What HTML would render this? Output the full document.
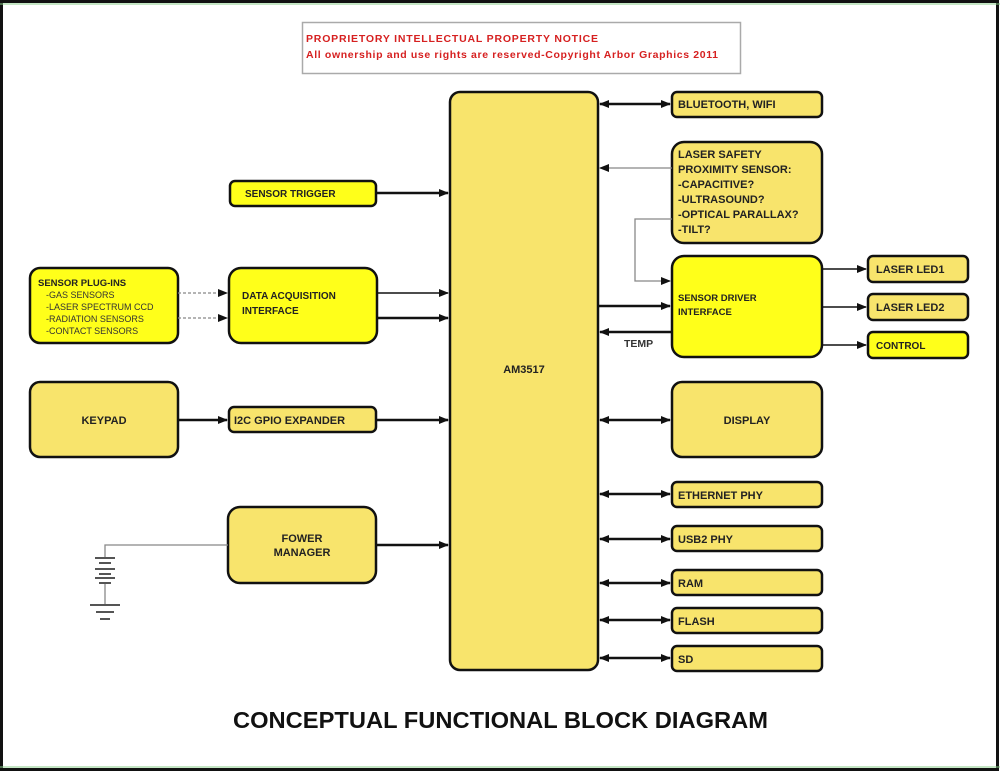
<!DOCTYPE html>
<html><head><meta charset="utf-8"><style>
html,body{margin:0;padding:0;background:#fff;}
svg{display:block;}
text{font-family:"Liberation Sans",Arial,sans-serif;font-weight:bold;fill:#222;}
</style></head><body>
<svg width="1000" height="772" viewBox="0 0 1000 772" xmlns="http://www.w3.org/2000/svg">
<defs>
<marker id="a" markerWidth="10" markerHeight="8" refX="9" refY="4" orient="auto" markerUnits="userSpaceOnUse"><path d="M0,0 L10,4 L0,8 Z" fill="#111"/></marker>
<marker id="s" markerWidth="10" markerHeight="8" refX="1" refY="4" orient="auto" markerUnits="userSpaceOnUse"><path d="M10,0 L0,4 L10,8 Z" fill="#111"/></marker>
</defs>
<rect width="1000" height="772" fill="#fff"/>
<!-- frame -->
<rect x="1.5" y="1.5" width="996" height="768" fill="none" stroke="#111" stroke-width="3"/>
<line x0="0" x1="1000" y1="4" y2="4" stroke="#7c7" stroke-width="1"/>
<line x1="0" x2="1000" y1="4" y2="4" stroke="#8c8" stroke-width="1"/>
<line x1="0" x2="1000" y1="767" y2="767" stroke="#8c8" stroke-width="1"/>

<!-- notice -->
<rect x="302.5" y="22.5" width="438" height="51" fill="#fff" stroke="#aaa" stroke-width="1.5"/>
<text x="306" y="42" font-size="10.5" style="fill:#d62020" textLength="292">PROPRIETORY INTELLECTUAL PROPERTY NOTICE</text>
<text x="306" y="58" font-size="10.5" style="fill:#d62020" textLength="412">All ownership and use rights are reserved-Copyright Arbor Graphics 2011</text>

<g stroke="#111" stroke-width="2.5">
<!-- pale boxes -->
<rect x="450" y="92" width="148" height="578" rx="10" fill="#f8e46c"/>
<rect x="672" y="92" width="150" height="25" rx="5" fill="#f8e46c"/>
<rect x="672" y="142" width="150" height="101" rx="12" fill="#f8e46c"/>
<rect x="868" y="256" width="100" height="26" rx="5" fill="#f8e46c"/>
<rect x="868" y="294" width="100" height="26" rx="5" fill="#f8e46c"/>
<rect x="30" y="382" width="148" height="75" rx="10" fill="#f8e46c"/>
<rect x="229" y="407" width="147" height="25" rx="5" fill="#f8e46c"/>
<rect x="228" y="507" width="148" height="76" rx="12" fill="#f8e46c"/>
<rect x="672" y="382" width="150" height="75" rx="10" fill="#f8e46c"/>
<rect x="672" y="482" width="150" height="25" rx="5" fill="#f8e46c"/>
<rect x="672" y="526" width="150" height="25" rx="5" fill="#f8e46c"/>
<rect x="672" y="570" width="150" height="25" rx="5" fill="#f8e46c"/>
<rect x="672" y="608" width="150" height="25" rx="5" fill="#f8e46c"/>
<rect x="672" y="646" width="150" height="25" rx="5" fill="#f8e46c"/>
<!-- bright boxes -->
<rect x="672" y="256" width="150" height="101" rx="12" fill="#ffff1a"/>
<rect x="868" y="332" width="100" height="26" rx="5" fill="#ffff1a"/>
<rect x="230" y="181" width="146" height="25" rx="5" fill="#ffff1a"/>
<rect x="30" y="268" width="148" height="75" rx="10" fill="#ffff1a"/>
<rect x="229" y="268" width="148" height="75" rx="12" fill="#ffff1a"/>
</g>

<!-- connectors -->
<g stroke="#111" stroke-width="2.5" fill="none">
<line x1="600" y1="104" x2="670" y2="104" marker-start="url(#s)" marker-end="url(#a)"/>
<line x1="376" y1="193" x2="448" y2="193" marker-end="url(#a)"/>
<line x1="377" y1="318" x2="448" y2="318" marker-end="url(#a)"/>
<line x1="178" y1="420" x2="227" y2="420" marker-end="url(#a)"/>
<line x1="376" y1="420" x2="448" y2="420" marker-end="url(#a)"/>
<line x1="376" y1="545" x2="448" y2="545" marker-end="url(#a)"/>
<line x1="598" y1="306" x2="670" y2="306" marker-end="url(#a)"/>
<line x1="672" y1="332" x2="600" y2="332" marker-end="url(#a)"/>
<line x1="600" y1="420" x2="670" y2="420" marker-start="url(#s)" marker-end="url(#a)"/>
<line x1="600" y1="494" x2="670" y2="494" marker-start="url(#s)" marker-end="url(#a)"/>
<line x1="600" y1="539" x2="670" y2="539" marker-start="url(#s)" marker-end="url(#a)"/>
<line x1="600" y1="583" x2="670" y2="583" marker-start="url(#s)" marker-end="url(#a)"/>
<line x1="600" y1="620" x2="670" y2="620" marker-start="url(#s)" marker-end="url(#a)"/>
<line x1="600" y1="658" x2="670" y2="658" marker-start="url(#s)" marker-end="url(#a)"/>
</g>
<g stroke="#111" stroke-width="1.5" fill="none">
<line x1="377" y1="293" x2="448" y2="293" marker-end="url(#a)"/>
<line x1="822" y1="269" x2="866" y2="269" marker-end="url(#a)"/>
<line x1="822" y1="307" x2="866" y2="307" marker-end="url(#a)"/>
<line x1="822" y1="345" x2="866" y2="345" marker-end="url(#a)"/>
</g>
<g stroke="#888" stroke-width="1.3" fill="none">
<line x1="672" y1="168" x2="600" y2="168" marker-end="url(#a)"/>
<polyline points="672,219 635,219 635,281 670,281" marker-end="url(#a)"/>
<line x1="178" y1="293" x2="227" y2="293" stroke-dasharray="3,2" marker-end="url(#a)"/>
<line x1="178" y1="318" x2="227" y2="318" stroke-dasharray="3,2" marker-end="url(#a)"/>
<polyline points="228,545 105,545 105,557"/>
<line x1="105" y1="582" x2="105" y2="605"/>
</g>
<!-- battery -->
<g stroke="#555" stroke-width="2">
<line x1="95" y1="558" x2="115" y2="558"/>
<line x1="99" y1="563" x2="111" y2="563"/>
<line x1="95" y1="569" x2="115" y2="569"/>
<line x1="99" y1="574" x2="111" y2="574"/>
<line x1="95" y1="578" x2="115" y2="578"/>
<line x1="99" y1="583" x2="111" y2="583"/>
<line x1="90" y1="605" x2="120" y2="605"/>
<line x1="96" y1="612" x2="114" y2="612"/>
<line x1="100" y1="619" x2="110" y2="619"/>
</g>

<!-- labels -->
<text x="678" y="108" font-size="11">BLUETOOTH, WIFI</text>
<g font-size="11">
<text x="678" y="158">LASER SAFETY</text>
<text x="678" y="173">PROXIMITY SENSOR:</text>
<text x="678" y="188">-CAPACITIVE?</text>
<text x="678" y="203">-ULTRASOUND?</text>
<text x="678" y="218">-OPTICAL PARALLAX?</text>
<text x="678" y="233">-TILT?</text>
</g>
<text x="678" y="301" font-size="9.5">SENSOR DRIVER</text>
<text x="678" y="315" font-size="9.5">INTERFACE</text>
<text x="624" y="347" font-size="10.5" style="fill:#333">TEMP</text>
<text x="876" y="273" font-size="11">LASER LED1</text>
<text x="876" y="311" font-size="11">LASER LED2</text>
<text x="876" y="349" font-size="10">CONTROL</text>
<text x="245" y="197" font-size="10">SENSOR TRIGGER</text>
<text x="38" y="286" font-size="9.5">SENSOR PLUG-INS</text>
<g font-size="9" font-weight="normal" style="font-weight:normal">
<text x="46" y="298" style="font-weight:normal;fill:#333">-GAS SENSORS</text>
<text x="46" y="310" style="font-weight:normal;fill:#333">-LASER SPECTRUM CCD</text>
<text x="46" y="322" style="font-weight:normal;fill:#333">-RADIATION SENSORS</text>
<text x="46" y="334" style="font-weight:normal;fill:#333">-CONTACT SENSORS</text>
</g>
<text x="242" y="299" font-size="10">DATA ACQUISITION</text>
<text x="242" y="314" font-size="10">INTERFACE</text>
<text x="104" y="424" font-size="11" text-anchor="middle">KEYPAD</text>
<text x="234" y="424" font-size="11">I2C GPIO EXPANDER</text>
<text x="302" y="542" font-size="11" text-anchor="middle">FOWER</text>
<text x="302" y="556" font-size="11" text-anchor="middle">MANAGER</text>
<text x="524" y="373" font-size="11" text-anchor="middle">AM3517</text>
<text x="747" y="424" font-size="11" text-anchor="middle">DISPLAY</text>
<text x="678" y="499" font-size="11">ETHERNET PHY</text>
<text x="678" y="543" font-size="11">USB2 PHY</text>
<text x="678" y="587" font-size="11">RAM</text>
<text x="678" y="625" font-size="11">FLASH</text>
<text x="678" y="663" font-size="11">SD</text>
<text x="233" y="728" font-size="23" style="fill:#111" textLength="535" lengthAdjust="spacingAndGlyphs">CONCEPTUAL FUNCTIONAL BLOCK DIAGRAM</text>
</svg>
</body></html>
